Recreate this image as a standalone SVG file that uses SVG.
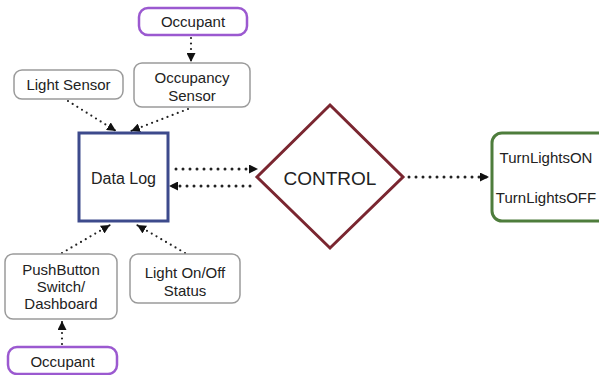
<svg xmlns="http://www.w3.org/2000/svg" width="599" height="375" viewBox="0 0 599 375">
  <defs>
    <marker id="head" viewBox="0 0 10 10" refX="10" refY="5" markerWidth="9" markerHeight="9" markerUnits="userSpaceOnUse" orient="auto">
      <path d="M0,0 L10,5 L0,10 z" fill="#111"/>
    </marker>
    <style>
      text { font-family: "Liberation Sans", Arial, sans-serif; fill: #222; text-anchor: middle; dominant-baseline: central; }
      .box { fill: #fff; stroke: #9a9a9a; stroke-width: 1.5; }
      .occ { fill: #fff; stroke: #9b59d0; stroke-width: 2.5; }
      .link { fill: none; stroke: #222; stroke-width: 2.2; stroke-linecap: round; stroke-dasharray: 0 5.5; marker-end: url(#head); }
      .link.big { stroke-width: 3; stroke-dasharray: 0 7; }
    </style>
  </defs>
  <rect width="599" height="375" fill="#fff"/>

  <g id="connectors">
    <line class="link" x1="191" y1="38" x2="191" y2="62"/>
    <line class="link" x1="68" y1="101" x2="116" y2="131"/>
    <line class="link" x1="188" y1="109" x2="131" y2="131"/>
    <line class="link" x1="62" y1="253" x2="110" y2="225"/>
    <line class="link" x1="185" y1="253" x2="137" y2="225"/>
    <line class="link" x1="62" y1="344" x2="62" y2="321"/>
    <line class="link big" x1="176" y1="169" x2="258" y2="169"/>
    <line class="link big" x1="250" y1="186" x2="169" y2="186"/>
    <line class="link big" x1="409" y1="177" x2="489" y2="177"/>
  </g>

  <g id="occupant-top">
    <rect class="occ" x="139" y="8" width="108" height="27" rx="9"/>
    <text x="193" y="21.5" font-size="15">Occupant</text>
  </g>

  <g id="light-sensor">
    <rect class="box" x="14" y="70" width="109" height="29" rx="8"/>
    <text x="68.5" y="84.5" font-size="15">Light Sensor</text>
  </g>

  <g id="occupancy-sensor">
    <rect class="box" x="134" y="63" width="116" height="44" rx="8"/>
    <text x="192" y="77" font-size="15">Occupancy</text>
    <text x="192" y="95" font-size="15">Sensor</text>
  </g>

  <g id="data-log">
    <rect x="79" y="133" width="89" height="88" fill="#fff" stroke="#3d4a8c" stroke-width="3"/>
    <text x="123.5" y="178" font-size="16">Data Log</text>
  </g>

  <g id="control">
    <polygon points="330,105 403,177 330,248 257,177" fill="#fff" stroke="#7a2630" stroke-width="3"/>
    <text x="330" y="178" font-size="19">CONTROL</text>
  </g>

  <g id="lights">
    <rect x="492" y="133" width="120" height="88" rx="10" fill="#fff" stroke="#4e7d3c" stroke-width="3"/>
    <text x="546" y="157" font-size="15">TurnLightsON</text>
    <text x="546" y="197" font-size="15">TurnLightsOFF</text>
  </g>

  <g id="pushbutton">
    <rect class="box" x="5" y="254" width="112" height="65" rx="8"/>
    <text x="61" y="269" font-size="15">PushButton</text>
    <text x="61" y="286" font-size="15">Switch/</text>
    <text x="61" y="303" font-size="15">Dashboard</text>
  </g>

  <g id="light-status">
    <rect class="box" x="130" y="254" width="110" height="49" rx="8"/>
    <text x="185" y="272" font-size="15">Light On/Off</text>
    <text x="185" y="290" font-size="15">Status</text>
  </g>

  <g id="occupant-bottom">
    <rect class="occ" x="8" y="347" width="109" height="27" rx="9"/>
    <text x="62.5" y="361" font-size="15">Occupant</text>
  </g>
</svg>
